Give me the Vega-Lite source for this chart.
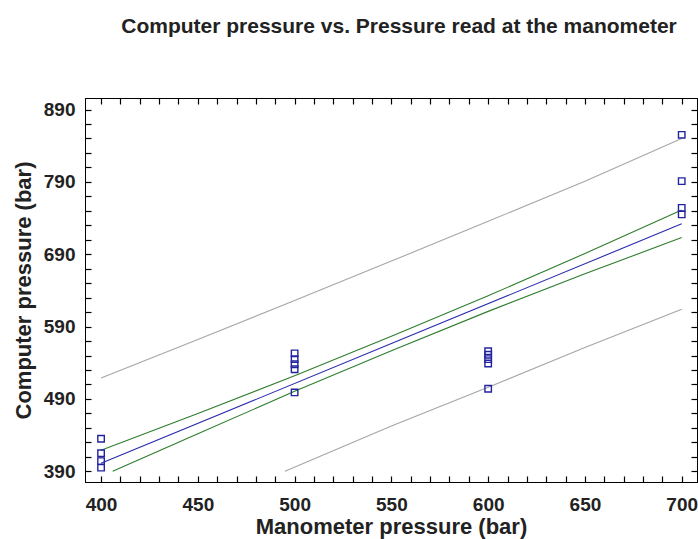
{
  "$schema": "https://vega.github.io/schema/vega-lite/v6.json",
  "width": 612,
  "height": 384,
  "autosize": {"type": "none"},
  "padding": {"left": 85, "top": 98, "right": 1, "bottom": 57},
  "background": "white",
  "title": {
    "text": "Computer  pressure vs. Pressure read at the manometer",
    "anchor": "middle",
    "offset": 60,
    "dx": 8,
    "font": "Liberation Sans",
    "fontSize": 21,
    "fontWeight": "bold",
    "color": "#222"
  },
  "config": {
    "view": {"stroke": "#000", "strokeWidth": 1},
    "axis": {
      "domainColor": "#000",
      "tickColor": "#000",
      "tickWidth": 1.2,
      "tickSize": -6,
      "grid": false,
      "labelFont": "Liberation Sans",
      "labelFontWeight": "bold",
      "labelFontSize": 19,
      "labelColor": "#222",
      "titleFont": "Liberation Sans",
      "titleFontWeight": "bold",
      "titleFontSize": 22,
      "titleColor": "#222",
      "labelOverlap": false,
      "labelFlush": false,
      "labelBound": false
    }
  },
  "datasets": {
    "points": [
      {"mano": 400, "comp": 435}, {"mano": 400, "comp": 415}, {"mano": 400, "comp": 404}, {"mano": 400, "comp": 395},
      {"mano": 500, "comp": 553}, {"mano": 500, "comp": 545}, {"mano": 500, "comp": 538}, {"mano": 500, "comp": 531}, {"mano": 500, "comp": 499},
      {"mano": 600, "comp": 556}, {"mano": 600, "comp": 551}, {"mano": 600, "comp": 545}, {"mano": 600, "comp": 539}, {"mano": 600, "comp": 504},
      {"mano": 700, "comp": 855}, {"mano": 700, "comp": 791}, {"mano": 700, "comp": 754}, {"mano": 700, "comp": 745}
    ],
    "lines": [
      {"series": "fit", "mano": 400, "comp": 401}, {"series": "fit", "mano": 550, "comp": 566.5}, {"series": "fit", "mano": 700, "comp": 732},
      {"series": "conf_upper", "mano": 400, "comp": 419}, {"series": "conf_upper", "mano": 450, "comp": 470}, {"series": "conf_upper", "mano": 500, "comp": 522}, {"series": "conf_upper", "mano": 550, "comp": 576.5}, {"series": "conf_upper", "mano": 600, "comp": 632.5}, {"series": "conf_upper", "mano": 650, "comp": 691}, {"series": "conf_upper", "mano": 700, "comp": 751},
      {"series": "conf_lower", "mano": 406, "comp": 390}, {"series": "conf_lower", "mano": 450, "comp": 442}, {"series": "conf_lower", "mano": 500, "comp": 500.5}, {"series": "conf_lower", "mano": 550, "comp": 556.5}, {"series": "conf_lower", "mano": 600, "comp": 611}, {"series": "conf_lower", "mano": 650, "comp": 663}, {"series": "conf_lower", "mano": 700, "comp": 713},
      {"series": "pred_upper", "mano": 400, "comp": 519}, {"series": "pred_upper", "mano": 450, "comp": 572}, {"series": "pred_upper", "mano": 500, "comp": 626}, {"series": "pred_upper", "mano": 550, "comp": 680.5}, {"series": "pred_upper", "mano": 600, "comp": 735.5}, {"series": "pred_upper", "mano": 650, "comp": 791}, {"series": "pred_upper", "mano": 700, "comp": 850},
      {"series": "pred_lower", "mano": 495, "comp": 390}, {"series": "pred_lower", "mano": 550, "comp": 452.5}, {"series": "pred_lower", "mano": 600, "comp": 506}, {"series": "pred_lower", "mano": 650, "comp": 561}, {"series": "pred_lower", "mano": 700, "comp": 614}
    ]
  },
  "resolve": {"axis": {"x": "independent", "y": "independent"}},
  "layer": [
    {
      "data": {"name": "lines"},
      "mark": {"type": "line", "strokeWidth": 1.1},
      "encoding": {
        "x": {
          "field": "mano", "type": "quantitative",
          "scale": {"domain": [391.7, 707.9], "nice": false, "zero": false},
          "axis": {
            "orient": "top", "labels": false, "title": null,
            "values": [400,410,420,430,440,450,460,470,480,490,500,510,520,530,540,550,560,570,580,590,600,610,620,630,640,650,660,670,680,690,700],
            "encode": {"ticks": {"update": {"y2": {"signal": "datum.value % 50 === 0 ? 7 : 4"}}}}
          }
        },
        "y": {
          "field": "comp", "type": "quantitative",
          "scale": {"domain": [375.2, 905.9], "nice": false, "zero": false},
          "axis": {
            "orient": "right", "labels": false, "title": null,
            "values": [390,410,430,450,470,490,510,530,550,570,590,610,630,650,670,690,710,730,750,770,790,810,830,850,870,890],
            "encode": {"ticks": {"update": {"x2": {"signal": "datum.value % 100 === 90 ? -9 : -5"}}}}
          }
        },
        "color": {
          "field": "series", "type": "nominal", "legend": null,
          "scale": {
            "domain": ["fit", "conf_upper", "conf_lower", "pred_upper", "pred_lower"],
            "range": ["#2b2bb0", "#2e7d2e", "#2e7d2e", "#a6a6a6", "#a6a6a6"]
          }
        },
        "detail": {"field": "series"}
      }
    },
    {
      "data": {"name": "points"},
      "mark": {"type": "point", "shape": "square", "filled": false, "size": 42, "strokeWidth": 1.4, "color": "#2323a0", "opacity": 1},
      "encoding": {
        "x": {
          "field": "mano", "type": "quantitative",
          "axis": {
            "orient": "bottom", "title": "Manometer pressure (bar)",
            "values": [400,410,420,430,440,450,460,470,480,490,500,510,520,530,540,550,560,570,580,590,600,610,620,630,640,650,660,670,680,690,700],
            "labelExpr": "datum.value % 50 === 0 ? datum.label : ''",
            "encode": {"ticks": {"update": {"y2": {"signal": "datum.value % 50 === 0 ? -8 : -4"}}}},
            "labelPadding": 19,
            "titlePadding": 2
          }
        },
        "y": {
          "field": "comp", "type": "quantitative",
          "axis": {
            "orient": "left", "title": "Computer pressure (bar)",
            "values": [390,410,430,450,470,490,510,530,550,570,590,610,630,650,670,690,710,730,750,770,790,810,830,850,870,890],
            "labelExpr": "datum.value % 100 === 90 ? datum.label : ''",
            "encode": {"ticks": {"update": {"x2": {"signal": "datum.value % 100 === 90 ? 9 : 5"}}}},
            "labelPadding": 16,
            "titlePadding": 8
          }
        }
      }
    }
  ]
}
